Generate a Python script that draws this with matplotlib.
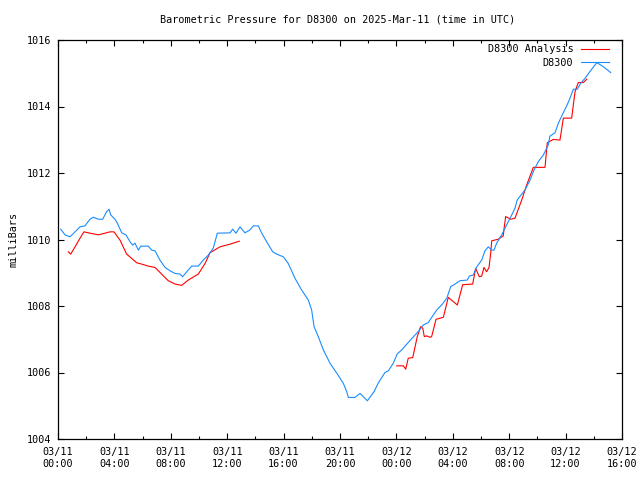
import datetime as dt
import numpy as np
import matplotlib
matplotlib.use("Agg")
import matplotlib.pyplot as plt
import matplotlib.dates as mdates

# hours after 2025-03-11 00:00 UTC
blue_hours = [0.19, 0.50, 0.85, 1.21, 1.56, 1.91, 2.27, 2.50, 2.86, 3.17, 3.45, 3.62, 3.74, 4.04, 4.21,
              4.52, 4.82, 5.11, 5.30, 5.46, 5.70, 5.87, 6.40, 6.65, 6.88, 7.23, 7.59, 7.94, 8.30, 8.65,
              8.84, 9.13, 9.48, 9.95, 10.30, 10.66, 11.01, 11.30, 12.20, 12.39, 12.62, 12.91, 13.26,
              13.62, 13.85, 14.21, 14.45, 14.80, 15.23, 15.51, 15.98, 16.33, 16.81, 17.28, 17.75,
              17.99, 18.16, 18.46, 18.82, 19.29, 19.77, 20.23, 20.48, 20.59, 21.06, 21.42, 21.94,
              22.41, 22.72, 23.19, 23.43, 23.78, 24.06, 24.38, 24.96, 25.55, 25.91, 26.26, 26.57,
              26.86, 27.21, 27.57, 27.85, 28.16, 28.51, 29.03, 29.17, 29.45, 29.70, 30.05, 30.28,
              30.52, 30.76, 30.92, 31.11, 31.47, 31.82, 32.18, 32.41, 32.57, 33.12, 33.48, 33.76,
              34.06, 34.42, 34.77, 34.89, 35.25, 35.48, 35.72, 36.08, 36.31, 36.55, 36.83, 37.07,
              37.38, 37.78, 38.21, 38.67, 39.20]
blue_values = [1010.31, 1010.14, 1010.08, 1010.23, 1010.38, 1010.41, 1010.61, 1010.67, 1010.61,
               1010.61, 1010.84, 1010.91, 1010.74, 1010.61, 1010.49, 1010.20, 1010.14, 1009.93,
               1009.83, 1009.89, 1009.68, 1009.80, 1009.80, 1009.68, 1009.66, 1009.38, 1009.16,
               1009.06, 1008.98, 1008.96, 1008.88, 1009.03, 1009.20, 1009.20, 1009.38, 1009.53,
               1009.74, 1010.19, 1010.20, 1010.31, 1010.19, 1010.38, 1010.20, 1010.29, 1010.41,
               1010.41, 1010.19, 1009.93, 1009.63, 1009.56, 1009.48, 1009.28, 1008.83, 1008.48,
               1008.18, 1007.88, 1007.38, 1007.08, 1006.68, 1006.28, 1005.98, 1005.68, 1005.42,
               1005.25, 1005.25, 1005.37, 1005.15, 1005.42, 1005.69, 1006.00, 1006.05, 1006.28,
               1006.56, 1006.68, 1006.96, 1007.23, 1007.43, 1007.50, 1007.70, 1007.88, 1008.03,
               1008.23, 1008.58, 1008.66, 1008.76, 1008.78, 1008.90, 1008.93, 1009.18, 1009.38,
               1009.66, 1009.78, 1009.68, 1009.68, 1009.89, 1010.14, 1010.44, 1010.74, 1010.94,
               1011.19, 1011.49, 1011.79, 1012.09, 1012.34, 1012.54, 1012.84, 1013.11, 1013.21,
               1013.49, 1013.71, 1014.02, 1014.25, 1014.52, 1014.52, 1014.70, 1014.85, 1015.08,
               1015.32, 1015.20, 1015.02]

# analysis series; NaN marks the data gap
red_hours = [0.73, 0.90, 1.21, 1.56, 1.84, 2.27, 2.86, 3.33, 3.69, 3.97, 4.40, 4.87, 5.23, 5.58,
             5.94, 6.40, 6.88, 7.35, 7.82, 8.30, 8.77, 9.24, 9.95, 10.43, 10.78, 11.49, 12.20,
             12.86, 18.0,
             24.02, 24.49, 24.66, 24.84, 25.16, 25.48, 25.72, 25.87, 25.98, 26.15, 26.38, 26.50,
             26.81, 27.33, 27.68, 28.32, 28.70, 29.41, 29.62, 29.88, 30.05, 30.21, 30.40, 30.57,
             30.69, 30.76, 31.23, 31.58, 31.63, 31.75, 32.11, 32.41, 32.89, 33.24, 33.71, 34.54,
             34.70, 35.13, 35.60, 35.84, 36.43, 36.67, 36.90, 37.26, 37.50]
red_values = [1009.63, 1009.56, 1009.78, 1010.04, 1010.23, 1010.19, 1010.14, 1010.19, 1010.23,
              1010.23, 1009.98, 1009.56, 1009.43, 1009.30, 1009.26, 1009.20, 1009.16, 1008.96,
              1008.76, 1008.66, 1008.62, 1008.78, 1008.96, 1009.28, 1009.60, 1009.78, 1009.86,
              1009.95, np.nan,
              1006.20, 1006.20, 1006.10, 1006.43, 1006.45, 1007.08, 1007.38, 1007.33, 1007.08,
              1007.10, 1007.06, 1007.08, 1007.60, 1007.66, 1008.26, 1008.03, 1008.64, 1008.66,
              1009.13, 1008.88, 1008.90, 1009.16, 1009.03, 1009.16, 1009.60, 1009.96, 1010.01,
              1010.11, 1010.31, 1010.69, 1010.61, 1010.64, 1011.19, 1011.64, 1012.17, 1012.17,
              1012.91, 1013.01, 1012.99, 1013.65, 1013.65, 1014.45, 1014.72, 1014.72, 1014.82]

y_ticks = [1004, 1006, 1008, 1010, 1012, 1014, 1016]
title = "Barometric Pressure for D8300 on 2025-Mar-11 (time in UTC)"

base = dt.datetime(2025, 3, 11, 0, 0)
to_time = lambda hs: [base + dt.timedelta(hours=h) for h in hs]

FONT = "DejaVu Sans Mono"
FS = 7.3
plt.rcParams["font.family"] = FONT

fig = plt.figure(figsize=(6.4, 4.8), dpi=100)
ax = fig.add_axes([58/640, 1-439/480, 564/640, 399/480])

ax.plot(to_time(red_hours), red_values, color="#ff0000", lw=0.8, label="D8300 Analysis")
ax.plot(to_time(blue_hours), blue_values, color="#1a8cff", lw=0.8, label="D8300")

ax.set_xlim(base, base + dt.timedelta(hours=40))
ax.set_ylim(1004, 1016)
ax.set_yticks(y_ticks)
ax.set_yticklabels([str(t) for t in y_ticks], fontsize=FS)
ax.xaxis.set_major_locator(mdates.HourLocator(byhour=range(0, 24, 4)))
ax.xaxis.set_minor_locator(mdates.HourLocator(byhour=range(0, 24, 2)))
ax.xaxis.set_major_formatter(mdates.DateFormatter("%m/%d\n%H:%M"))
for lab in ax.get_xticklabels():
    lab.set_fontsize(FS)

ax.tick_params(axis="both", which="both", direction="in", top=True, right=True,
               width=0.8, colors="black")
ax.tick_params(axis="both", which="major", length=4.5, pad=5)
ax.tick_params(axis="x", which="minor", length=2.5)
ax.tick_params(axis="x", which="major", pad=6)
for s in ax.spines.values():
    s.set_linewidth(0.9)

ax.set_ylabel("milliBars", fontsize=FS, labelpad=6)
fig.text(338/640, 1-19/480, title, ha="center", va="center", fontsize=FS)

leg = ax.legend(loc="upper right", bbox_to_anchor=(1-9/564, 1.0), frameon=False,
                markerfirst=False, fontsize=FS, handlelength=2.8, handletextpad=0.7,
                labelspacing=0.35, borderaxespad=0.2, borderpad=0.2)

fig.savefig("out.png", dpi=100)
